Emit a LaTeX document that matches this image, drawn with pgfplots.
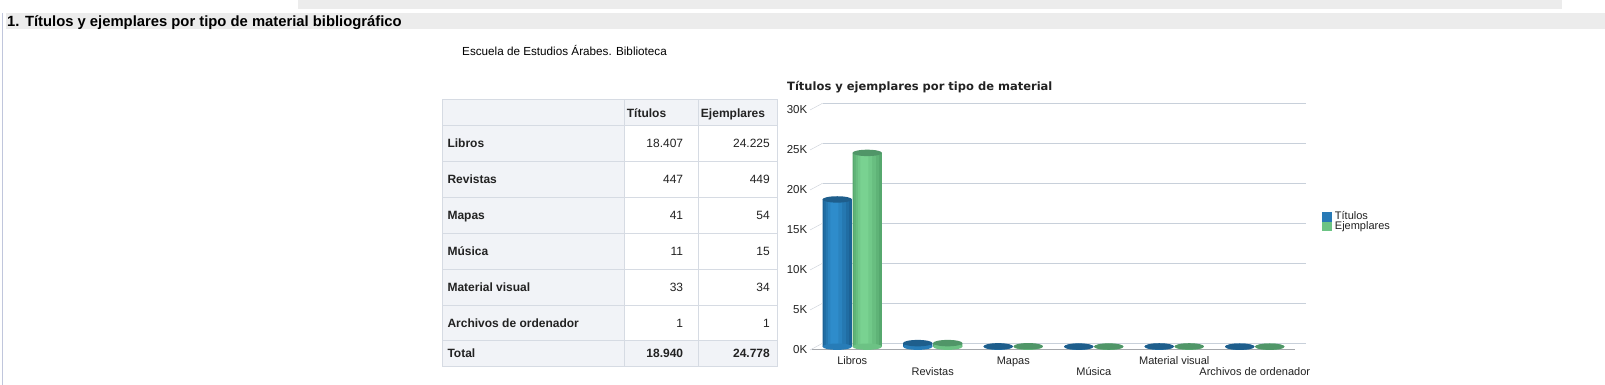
\documentclass[border=0pt]{standalone}
\usepackage{fontspec}
\setmainfont{Liberation Sans}
\newfontfamily\dejav{DejaVu Sans}
\usepackage{pgfplots}
\usepackage{pgfplotstable}
\pgfplotsset{compat=1.18}

\definecolor{strip}{RGB}{236,236,236}
\definecolor{tblfill}{RGB}{241,243,247}
\definecolor{tblline}{RGB}{214,219,227}
\definecolor{gridc}{RGB}{200,208,218}
\definecolor{axisc}{RGB}{165,168,172}
\definecolor{connc}{RGB}{200,205,214}
\definecolor{bL}{RGB}{28,98,150}
\definecolor{bM}{RGB}{48,146,210}
\definecolor{bT}{RGB}{30,94,140}
\definecolor{gL}{RGB}{86,168,110}
\definecolor{gM}{RGB}{126,216,150}
\definecolor{gT}{RGB}{80,150,104}
\definecolor{legB}{RGB}{40,122,182}
\definecolor{legG}{RGB}{108,196,132}
\definecolor{leftline}{RGB}{192,198,220}
\definecolor{txt}{RGB}{34,34,34}

\pgfplotstableread{
x y
0 18407
1 447
2 41
3 11
4 33
5 1
}\titulos
\pgfplotstableread{
x y
0 24225
1 449
2 54
3 15
4 34
5 1
}\ejemplares

\pgfdeclareplotmark{cyltop}{%
  \pgfpathellipse{\pgfpointorigin}{\pgfqpoint{14.7pt}{0pt}}{\pgfqpoint{0pt}{3.2pt}}%
  \pgfusepathqfill}

\pgfplotsset{
  lay/.style n args={3}{forget plot, ybar, bar width=#1, bar shift=#2, draw=none,
    fill=#3, xshift=-10.5pt, yshift=-3.4pt},
}

\begin{document}
\begin{tikzpicture}
\useasboundingbox (0,0) rectangle (1605pt,385pt);
\fill[white] (0,0) rectangle (1605pt,385pt);
\begin{scope}[x=1pt,y=-1pt,shift={(0pt,385pt)}]
  \fill[strip] (298,0) rectangle (1562,8.7);
  \fill[strip] (6,12.7) rectangle (1605,29.5);
  \draw[leftline, line width=1pt] (2.5,13) -- (2.5,385);
  \node[anchor=base west, inner sep=0pt, font=\bfseries\fontsize{14.8}{18}\selectfont] at (7,26.3)
    {1. Títulos y ejemplares por tipo de material bibliográfico};
  \node[anchor=base west, inner sep=0pt, font=\fontsize{11.7}{14}\selectfont] at (462,55.5)
    {Escuela de Estudios Árabes. Biblioteca};
  % table
  \fill[tblfill] (442,99.3) rectangle (777,125);
  \fill[tblfill] (442,125) rectangle (624.3,366.7);
  \fill[tblfill] (442,340.7) rectangle (777,366.7);
  \foreach \yy in {125,160.95,196.9,232.85,268.8,304.75,340.7}
    \draw[tblline] (442,\yy) -- (777,\yy);
  \draw[tblline] (624.3,99.3) -- (624.3,366.7);
  \draw[tblline] (698.3,99.3) -- (698.3,366.7);
  \draw[tblline] (442,99.3) rectangle (777,366.7);
  \begin{scope}[every node/.style={inner sep=0pt, text=txt, font=\fontsize{12}{14}\selectfont}]
    \node[anchor=base] at (646.5,117.3) {\bfseries Títulos};
    \node[anchor=base] at (733,117.3) {\bfseries Ejemplares};
    \foreach \lab/\a/\b [count=\i from 0] in {Libros/18.407/24.225, Revistas/447/449, Mapas/41/54, Música/11/15, Material visual/33/34, Archivos de ordenador/1/1} {
      \pgfmathsetmacro\yc{147.3+35.95*\i}
      \node[anchor=base west] at (447.3,\yc) {\bfseries\lab};
      \node[anchor=base east] at (683.3,\yc) {\a};
      \node[anchor=base east] at (770,\yc) {\b};
    }
    \node[anchor=base west] at (447.3,358) {\bfseries Total};
    \node[anchor=base east] at (683.3,358) {\bfseries 18.940};
    \node[anchor=base east] at (770,358) {\bfseries 24.778};
  \end{scope}
  \node[anchor=base west, inner sep=0pt, text=txt, font=\dejav\bfseries\fontsize{11.5}{14}\selectfont] at (787,90.3)
    {Títulos y ejemplares por tipo de material};
\end{scope}

\begin{axis}[
  at={(822.5pt,41.7pt)}, anchor=south west,
  scale only axis, width=483pt, height=240pt,
  xmin=-0.5, xmax=5.5, ymin=0, ymax=30000,
  clip=false,
  axis line style={draw=none},
  major tick length=0pt,
  scaled y ticks=false,
  ytick={0,5000,10000,15000,20000,25000,30000},
  yticklabels={0K,5K,10K,15K,20K,25K,30K},
  yticklabel style={font=\fontsize{11.5}{13}\selectfont, text=txt, anchor=east, inner sep=0pt, xshift=-15pt, yshift=-6.7pt},
  ymajorgrids,
  major grid style={draw=gridc, line width=1pt},
  xtick={0,2,4},
  xticklabels={Libros,Mapas,Material visual},
  extra x ticks={1,3,5},
  extra x tick labels={Revistas,Música,Archivos de ordenador},
  extra x tick style={xticklabel style={yshift=-10.6pt}},
  xticklabel style={font=\fontsize{11}{13}\selectfont, text=txt, anchor=base, inner sep=0pt, xshift=-10.5pt, yshift=-21.3pt},
  legend cell align=left,
  legend style={at={(1.0348,0.546)}, anchor=north west, draw=none, fill=none,
    inner sep=0pt, outer sep=0pt, row sep=0pt, column sep=3.3pt,
    font=\fontsize{11}{12}\selectfont,
    nodes={inner sep=0pt, text height=7.5pt, text depth=1.8pt, text=txt}},
  legend image code/.code={\fill[#1, draw=none] (0pt,-4.65pt) rectangle (9.3pt,4.65pt);},
]
\addlegendimage{fill=legB, draw=none}
\addlegendentry{Títulos}
\addlegendimage{fill=legG, draw=none}
\addlegendentry{Ejemplares}

% bottom ellipses
\addplot[forget plot, only marks, mark=cyltop, color=bL!45!bM, xshift=-25.5pt, yshift=-3.4pt]
  table[x=x, y expr=0] {\titulos};
\addplot[forget plot, only marks, mark=cyltop, color=gL!45!gM, xshift=4.5pt, yshift=-3.4pt]
  table[x=x, y expr=0] {\ejemplares};
% cylinder bodies (layered to imitate shading)
\addplot[lay={29.4pt}{-15pt}{bL}] table[x=x,y=y] {\titulos};
\addplot[lay={25pt}{-15.8pt}{bL!78!bM}] table[x=x,y=y] {\titulos};
\addplot[lay={20pt}{-16.5pt}{bL!55!bM}] table[x=x,y=y] {\titulos};
\addplot[lay={14pt}{-17.2pt}{bL!32!bM}] table[x=x,y=y] {\titulos};
\addplot[lay={8pt}{-17.8pt}{bL!12!bM}] table[x=x,y=y] {\titulos};
\addplot[lay={29.4pt}{15pt}{gL}] table[x=x,y=y] {\ejemplares};
\addplot[lay={25pt}{14.2pt}{gL!78!gM}] table[x=x,y=y] {\ejemplares};
\addplot[lay={20pt}{13.5pt}{gL!55!gM}] table[x=x,y=y] {\ejemplares};
\addplot[lay={14pt}{12.8pt}{gL!32!gM}] table[x=x,y=y] {\ejemplares};
\addplot[lay={8pt}{12.2pt}{gL!12!gM}] table[x=x,y=y] {\ejemplares};
% top ellipses
\addplot[forget plot, only marks, mark=cyltop, color=bT, xshift=-25.5pt, yshift=-3.4pt]
  table[x=x,y=y] {\titulos};
\addplot[forget plot, only marks, mark=cyltop, color=gT, xshift=4.5pt, yshift=-3.4pt]
  table[x=x,y=y] {\ejemplares};

\pgfplotsinvokeforeach{0,5000,10000,15000,20000,25000,30000}{
  \draw[connc] (axis cs:-0.5,#1) -- ++(-12.5pt,-6.7pt);
}
\draw[axisc, line width=1pt] (axis cs:-0.5,0) ++(-10.8pt,-6.7pt) -- ++(483.3pt,0pt);
\end{axis}
\end{tikzpicture}
\end{document}
